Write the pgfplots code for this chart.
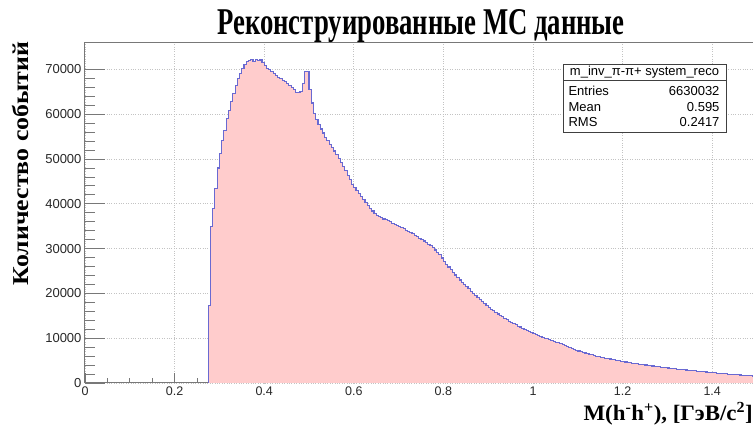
\documentclass[border=0pt]{standalone}
\usepackage{fontspec}
\setmainfont{Liberation Sans}
\newfontfamily\serifbold{Liberation Serif}
\usepackage{pgfplots}
\usepackage{pgfplotstable}
\pgfplotsset{compat=1.18}
\definecolor{histfill}{RGB}{255,204,204}
\definecolor{histline}{RGB}{105,105,210}
\definecolor{framegray}{RGB}{120,120,120}
\definecolor{gridgray}{RGB}{195,195,195}
\definecolor{ticktext}{RGB}{40,40,40}

\pgfplotstableread{
x y
0.275 0
0.275 17400
0.280 34900
0.285 39000
0.290 43500
0.295 48000
0.300 51300
0.305 54200
0.310 56400
0.315 59100
0.320 60900
0.325 62800
0.330 64700
0.335 66500
0.340 68000
0.345 69100
0.350 70300
0.355 71000
0.360 71700
0.365 72000
0.370 72300
0.375 71800
0.380 72300
0.385 71900
0.390 72100
0.395 71500
0.400 70900
0.405 70300
0.410 70000
0.415 69600
0.420 69000
0.425 68600
0.430 68200
0.435 67900
0.440 67500
0.445 67300
0.450 66900
0.455 66500
0.460 66000
0.465 65500
0.470 64800
0.475 64900
0.480 65000
0.485 66900
0.490 69500
0.495 69500
0.500 65500
0.505 62500
0.510 60200
0.515 58800
0.520 57800
0.525 56700
0.530 55800
0.535 54900
0.540 54200
0.545 53300
0.550 52500
0.555 51800
0.560 51000
0.565 50200
0.570 49300
0.575 48400
0.580 47400
0.585 46400
0.590 45400
0.595 44300
0.600 43600
0.605 43000
0.610 42300
0.615 41700
0.620 40900
0.625 40300
0.630 39600
0.635 39000
0.640 38400
0.645 37900
0.650 37400
0.655 37100
0.660 36900
0.665 36600
0.670 36400
0.675 36200
0.680 36000
0.685 35700
0.690 35400
0.695 35200
0.700 34900
0.705 34700
0.710 34400
0.715 34100
0.720 33900
0.725 33600
0.730 33300
0.735 33000
0.740 32700
0.745 32300
0.750 32000
0.755 31700
0.760 31400
0.765 31000
0.770 30700
0.775 30200
0.780 29700
0.785 29100
0.790 28600
0.795 27900
0.800 27200
0.805 26500
0.810 25900
0.815 25300
0.820 24700
0.825 24100
0.830 23600
0.835 23000
0.840 22500
0.845 22000
0.850 21500
0.855 21000
0.860 20500
0.865 20000
0.870 19500
0.875 19000
0.880 18600
0.885 18100
0.890 17700
0.895 17300
0.900 16900
0.905 16500
0.910 16100
0.915 15800
0.920 15400
0.925 15100
0.930 14800
0.935 14400
0.940 14100
0.945 13800
0.950 13500
0.955 13300
0.960 13000
0.965 12700
0.970 12500
0.975 12200
0.980 12000
0.985 11700
0.990 11500
0.995 11300
1.000 11000
1.005 10800
1.010 10600
1.015 10400
1.020 10200
1.025 10000
1.030 9900
1.035 9700
1.040 9500
1.045 9300
1.050 9100
1.055 9000
1.060 8900
1.065 8600
1.070 8300
1.075 8100
1.080 7900
1.085 7700
1.090 7500
1.095 7300
1.100 7150
1.105 7000
1.110 6850
1.115 6700
1.120 6550
1.125 6450
1.130 6300
1.135 6150
1.140 6000
1.145 5900
1.150 5750
1.155 5650
1.160 5550
1.165 5450
1.170 5350
1.175 5250
1.180 5150
1.185 5050
1.190 4950
1.195 4850
1.200 4750
1.205 4680
1.210 4600
1.215 4520
1.220 4440
1.225 4370
1.230 4290
1.235 4220
1.240 4150
1.245 4080
1.250 4010
1.255 3940
1.260 3870
1.265 3800
1.270 3730
1.275 3660
1.280 3600
1.285 3540
1.290 3470
1.295 3410
1.300 3350
1.305 3290
1.310 3220
1.315 3170
1.320 3110
1.325 3060
1.330 3000
1.335 2950
1.340 2900
1.345 2850
1.350 2800
1.355 2750
1.360 2700
1.365 2650
1.370 2600
1.375 2550
1.380 2500
1.385 2450
1.390 2400
1.395 2350
1.400 2300
1.405 2250
1.410 2200
1.415 2150
1.420 2100
1.425 2060
1.430 2020
1.435 1980
1.440 1940
1.445 1900
1.450 1860
1.455 1820
1.460 1790
1.465 1750
1.470 1710
1.475 1680
1.480 1640
1.485 1600
1.490 1570
1.495 1540
1.500 1540
}\histdata

\begin{document}
\begin{tikzpicture}[x=1pt,y=1pt]
\begin{axis}[
  at={(0,0)}, anchor=south west,
  scale only axis, width=672pt, height=340pt,
  xmin=0, xmax=1.5, ymin=0, ymax=75900,
  axis line style={framegray, line width=1pt},
  tick align=inside,
  xtick={0,0.2,0.4,0.6,0.8,1,1.2,1.4},
  ytick={0,10000,20000,30000,40000,50000,60000,70000},
  minor x tick num=3, minor y tick num=0,
  xtick pos=left, ytick pos=left,
  major tick length=10pt, minor tick length=5pt,
  tick style={color=framegray, line width=0.8pt},
  ytick style={draw=none},
  grid=major, major grid style={dotted, gridgray, line width=0.8pt},
  scaled y ticks=false, scaled x ticks=false,
  /pgf/number format/assume math mode=true,
  xticklabel style={font=\fontsize{12.5}{14}\selectfont, text=ticktext, /pgf/number format/.cd, fixed, precision=1},
  yticklabel style={font=\fontsize{13}{15}\selectfont, text=ticktext, /pgf/number format/.cd, fixed, 1000 sep={}},
]
\addplot[const plot mark left, fill=histfill, draw=none] table[x=x,y=y]{\histdata} \closedcycle;
\addplot[const plot mark left, histline, line width=1.1pt] table[x=x,y=y]{\histdata};
\end{axis}
% overlay axis for the longer y ticks
\begin{axis}[
  at={(0,0)}, anchor=south west,
  scale only axis, width=672pt, height=340pt,
  xmin=0, xmax=1.5, ymin=0, ymax=75900,
  hide x axis, axis y line*=left,
  axis line style={draw=none},
  tick align=inside,
  scaled y ticks=false,
  ytick={0,10000,20000,30000,40000,50000,60000,70000},
  minor y tick num=4,
  yticklabels={},
  major tick length=20pt, minor tick length=10pt,
  tick style={color=framegray, line width=0.8pt},
]
\end{axis}
% title and labels
\node[anchor=base, inner sep=0pt] at (336,348) {\scalebox{0.707}[1]{\serifbold\bfseries\fontsize{37.8}{40}\selectfont Реконструированные МС данные}};
\node[rotate=90, anchor=base, inner sep=0pt] at (-56.5,219.5) {\scalebox{1.14}[1]{\serifbold\bfseries\fontsize{22.7}{24}\selectfont Количество событий}};
\node[anchor=base east, inner sep=0pt] at (668,-37.5) {\scalebox{1.04}[1]{\serifbold\bfseries\fontsize{22}{24}\selectfont M(h\textsuperscript{-}h\textsuperscript{+}), [ГэВ/c\textsuperscript{2}]}};
% stats box
\draw[black!75, line width=0.7pt, fill=white] (478,251) rectangle (641,319);
\draw[black!75, line width=0.7pt] (478,303) -- (641,303);
\begin{scope}[font=\fontsize{13}{15}\selectfont]
\node at (559.5,311) {m\_inv\_π-π+ system\_reco};
\node[anchor=west] at (480,292) {Entries};
\node[anchor=east] at (638,292) {6630032};
\node[anchor=west] at (480,276) {Mean};
\node[anchor=east] at (638,276) {0.595};
\node[anchor=west] at (480,261) {RMS};
\node[anchor=east] at (638,261) {0.2417};
\end{scope}
\pgfresetboundingbox
\path (-85,-45) rectangle (668,383);
\end{tikzpicture}
\end{document}
